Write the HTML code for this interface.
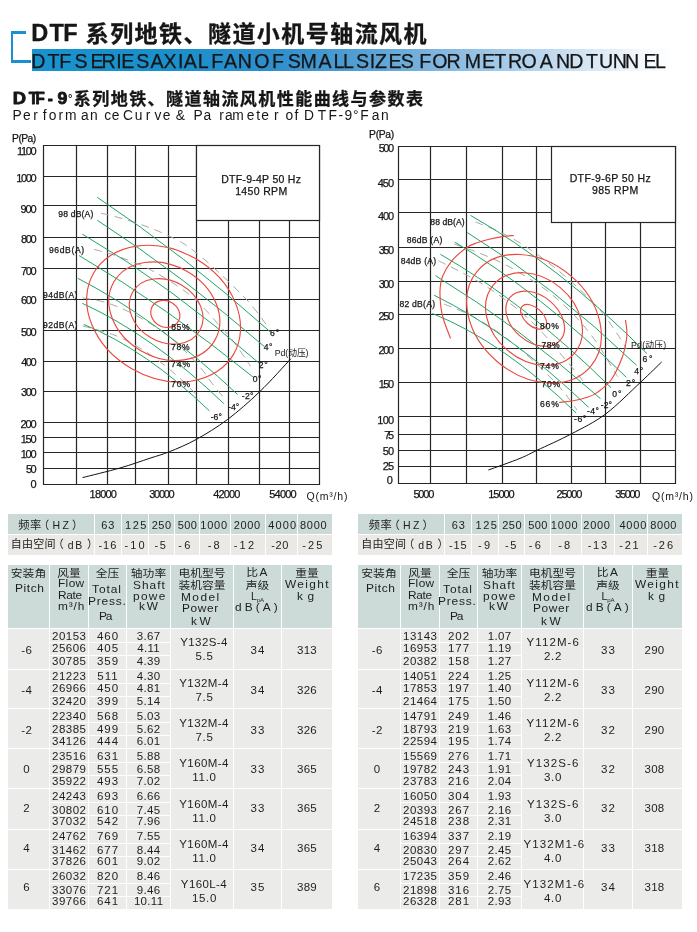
<!DOCTYPE html><html lang="zh"><head><meta charset="utf-8"><title>DTF 系列地铁、隧道小机号轴流风机</title><style>
html,body{margin:0;padding:0;background:#fff;}
body{width:697px;height:932px;overflow:hidden;position:relative;font-family:"Liberation Sans","Noto Sans CJK SC",sans-serif;color:#1a1a1a;}
.a{position:absolute;white-space:nowrap;}
.c{position:absolute;}
.t{position:absolute;left:0;width:100%;text-align:center;white-space:nowrap;font-size:11px;line-height:12px;color:#1e1e1e;}
.z{font-size:10.5px;letter-spacing:0;transform:scaleX(1.12);}
.d{font-size:11.5px;}
.e{font-size:10.5px;letter-spacing:1.7px;}
.hd{background:#ccdad8;}
.dt{background:#ebebe9;}
.f1{background:#cbd9d7;}
.f2{background:#eae9e6;}
svg text{font-family:"Liberation Sans","Noto Sans CJK SC",sans-serif;fill:#161616;}
</style></head><body>
<div class="a" style="left:31.5px;top:49.2px;width:640px;height:21.5px;background:linear-gradient(90deg,#1893cf 0%,#1a8fcb 22%,#2f8fcd 38%,#4f9dd3 50%,#86b9e0 65%,#c3dbf0 82%,#f4f8fc 95%,#ffffff 100%);"></div>
<div class="a" style="left:11px;top:31px;width:13px;height:29px;border-left:2.6px solid #1990d0;border-top:3px solid #1990d0;"></div>
<div class="a" style="left:11px;top:60px;width:20px;height:3px;background:#1990d0;"></div>
<svg class="a" style="left:0;top:0" width="697" height="505" viewBox="0 0 697 505">
<text x="31.3 49.6 63.2" y="40.50" font-size="23.5" font-weight="bold" fill="#111" stroke="#111" stroke-width="0.3" stroke-linejoin="round">DTF</text>
<text x="85.7" y="41.9" font-size="23" font-weight="bold" fill="#111" stroke="#111" stroke-width="0.3" letter-spacing="1.45">系列地铁、隧道小机号轴流风机</text>
<text x="31.2 47.5 59.2 71.2 74.6 90.5 101.5 116.3 121.3 136.2 149.3 150.5 163.5 177.9 183.7 197.8 208.7 211.3 223.9 237.8 252.0 254.3 272.1 284.1 287.8 300.5 318.6 333.6 343.1 354.0 356.1 369.8 374.9 388.6 400.8 413.8 419.2 432.2 446.6 460.8 464.7 482.1 494.3 508.1 521.4 536.6 539.7 555.9 569.3 583.5 586.0 598.9 612.7 624.9 643.5 655.1" y="67.80" font-size="19.6" fill="#111" stroke="#111" stroke-width="0.25" stroke-linejoin="round">DTF SERIES AXIAL FAN OF SMALL SIZES FOR METRO AND TUNNEL</text>
<text x="11.0" y="103.90" font-size="16" font-weight="bold" fill="#111" stroke="#111" stroke-width="0.8" stroke-linejoin="round" transform="scale(1.15,1)">D</text>
<text x="30.3 37.3 50.3" y="103.90" font-size="16" font-weight="bold" fill="#111" stroke="#111" stroke-width="0.8" stroke-linejoin="round" transform="scale(0.95,1)">TF-</text>
<text x="52.3" y="103.90" font-size="16" font-weight="bold" fill="#111" stroke="#111" stroke-width="0.8" stroke-linejoin="round" transform="scale(1.1,1)">9</text>
<text x="68" y="101.5" font-size="11" font-weight="bold" fill="#111">°</text>
<text x="73.8" y="104.9" font-size="17" font-weight="bold" fill="#111" stroke="#111" stroke-width="0.3" letter-spacing="1.45">系列地铁、隧道轴流风机性能曲线与参数表</text>
<text x="12.6 23.1 33.3 42.8 48.7 58.6 64.9 81.0 90.1 104.2 111.8 119.4 123.0 134.7 145.7 154.5 162.8 170.5 175.7 184.9 193.6 203.6 219.3 225.0 232.2 246.8 256.3 261.3 274.1 278.7 285.4 294.6 298.4 303.9 317.8 328.6 338.6 344.6 353.0 358.5 360.2 371.8 381.0" y="120.40" font-size="13.8" fill="#333">Performance Curve &amp; Parameter of DTF-9° Fan</text>
<path d="M43.5 145.0V485.0M76.5 145.0V485.0M107.5 145.0V485.0M135.5 145.0V485.0M168.5 145.0V485.0M196.5 145.0V485.0M228.5 145.0V485.0M259.5 145.0V485.0M289.5 145.0V485.0M319.5 145.0V485.0M43.0 145.5H320.0M43.0 176.5H320.0M43.0 205.5H320.0M43.0 237.5H320.0M43.0 268.5H320.0M43.0 299.5H320.0M43.0 330.5H320.0M43.0 361.5H320.0M43.0 391.5H320.0M43.0 422.5H320.0M43.0 437.5H320.0M43.0 452.5H320.0M43.0 468.5H320.0M43.0 484.5H320.0" fill="none" stroke="#262626" stroke-width="1.2"/>
<path d="M101.0 213.2 C105.1 214.2 116.7 216.8 125.5 219.5 C134.3 222.2 144.7 225.6 154.0 229.4 C163.3 233.2 173.8 238.0 181.5 242.4 C189.2 246.8 194.4 251.4 200.0 255.8 C205.6 260.2 209.7 264.1 215.0 269.0 C220.3 273.9 226.7 279.8 232.0 285.0 C237.3 290.2 242.3 294.8 247.0 300.0 C251.7 305.2 256.6 311.6 260.0 316.0 C263.4 320.4 266.2 324.8 267.5 326.5" fill="none" stroke="#a8a8a8" stroke-width="1" stroke-dasharray="8 6"/>
<path d="M94.0 249.4 C97.3 250.3 105.3 252.0 113.7 254.9 C122.1 257.8 135.6 262.7 144.5 266.8 C153.4 270.9 159.7 274.8 167.3 279.5 C174.9 284.2 183.6 290.0 190.0 295.0 C196.4 300.0 200.8 304.9 205.5 309.7 C210.2 314.5 213.9 319.4 218.0 324.0 C222.1 328.6 225.8 331.8 230.0 337.0 C234.2 342.2 239.6 350.1 243.0 355.0 C246.4 359.9 249.4 364.6 250.7 366.5" fill="none" stroke="#a8a8a8" stroke-width="1" stroke-dasharray="8 6"/>
<path d="M82.7 297.9 C86.4 298.6 97.7 300.0 105.0 302.2 C112.3 304.4 119.2 307.2 126.8 310.8 C134.4 314.4 143.6 319.6 150.5 323.7 C157.4 327.8 162.2 330.9 168.0 335.5 C173.8 340.1 179.4 345.4 185.0 351.0 C190.6 356.6 197.1 363.6 201.6 369.0 C206.1 374.4 208.3 378.6 212.0 383.3 C215.7 388.1 221.7 395.1 223.6 397.5" fill="none" stroke="#a8a8a8" stroke-width="1" stroke-dasharray="8 6"/>
<path d="M82.7 325.9 C87.7 327.3 104.4 331.4 112.8 334.5 C121.2 337.6 126.3 340.3 133.3 344.2 C140.3 348.1 148.1 353.0 155.0 358.0 C161.9 363.0 169.2 369.0 175.0 374.0 C180.8 379.0 185.8 383.8 190.0 388.0 C194.2 392.2 198.3 397.2 200.0 399.0" fill="none" stroke="#a8a8a8" stroke-width="1" stroke-dasharray="8 6"/>
<path d="M97.2 197.3Q183.7 254.5 270.2 331.8" fill="none" stroke="#14a05c" stroke-width="0.95"/>
<path d="M97.2 220.2Q180.8 274.3 264.5 346.7" fill="none" stroke="#14a05c" stroke-width="0.95"/>
<path d="M82.3 234.1Q170.8 285.5 259.2 363.3" fill="none" stroke="#14a05c" stroke-width="0.95"/>
<path d="M79.0 255.5Q166.6 306.9 254.1 377.8" fill="none" stroke="#14a05c" stroke-width="0.95"/>
<path d="M77.8 278.3Q157.7 319.4 237.6 394.5" fill="none" stroke="#14a05c" stroke-width="0.95"/>
<path d="M82.3 303.3Q153.1 335.8 223.8 403.6" fill="none" stroke="#14a05c" stroke-width="0.95"/>
<path d="M83.8 324.4Q146.6 350.1 209.4 410.9" fill="none" stroke="#14a05c" stroke-width="0.95"/>
<ellipse cx="165.3" cy="313.9" rx="15.0" ry="13.0" transform="rotate(30.0 165.3 313.9)" fill="none" stroke="#ea4a40" stroke-width="1.15"/>
<ellipse cx="166.2" cy="311.4" rx="38.7" ry="30.5" transform="rotate(30.0 166.2 311.4)" fill="none" stroke="#ea4a40" stroke-width="1.15"/>
<ellipse cx="164.3" cy="311.2" rx="58.3" ry="45.9" transform="rotate(30.0 164.3 311.2)" fill="none" stroke="#ea4a40" stroke-width="1.15"/>
<ellipse cx="163.6" cy="313.7" rx="80.9" ry="63.6" transform="rotate(30.0 163.6 313.7)" fill="none" stroke="#ea4a40" stroke-width="1.15"/>
<path d="M82.5 477.6 C88.8 476.0 108.8 471.2 120.0 468.0 C131.2 464.8 141.8 460.9 150.0 458.2 C158.2 455.5 161.7 454.8 169.4 451.7 C177.2 448.6 186.8 444.7 196.5 439.3 C206.2 433.9 216.9 427.4 227.5 419.5 C238.1 411.6 249.2 401.7 259.8 391.6 C270.4 381.5 285.6 364.3 290.8 358.8" fill="none" stroke="#111" stroke-width="1"/>
<rect x="196.5" y="145.5" width="123.0" height="75.0" fill="#fff" stroke="#262626" stroke-width="1.2"/>
<text x="221.15" y="182.92" font-size="10.5" letter-spacing="0.27" stroke="#161616" stroke-width="0.25">DTF-9-4P 50 Hz</text>
<text x="235.20" y="194.92" font-size="10.5" letter-spacing="0.34" stroke="#161616" stroke-width="0.25">1450 RPM</text>
<text x="17.00" y="155.09" font-size="11" letter-spacing="-1.35" stroke="#161616" stroke-width="0.25">1100</text>
<text x="16.20" y="182.29" font-size="11" letter-spacing="-1.35" stroke="#161616" stroke-width="0.25">1000</text>
<text x="20.50" y="212.89" font-size="11" letter-spacing="-1.12" stroke="#161616" stroke-width="0.25">900</text>
<text x="21.05" y="243.09" font-size="11" letter-spacing="-1.40" stroke="#161616" stroke-width="0.25">800</text>
<text x="20.95" y="275.30" font-size="11" letter-spacing="-1.35" stroke="#161616" stroke-width="0.25">700</text>
<text x="20.95" y="304.30" font-size="11" letter-spacing="-1.35" stroke="#161616" stroke-width="0.25">600</text>
<text x="21.10" y="335.80" font-size="11" letter-spacing="-1.42" stroke="#161616" stroke-width="0.25">500</text>
<text x="21.25" y="365.90" font-size="11" letter-spacing="-1.50" stroke="#161616" stroke-width="0.25">400</text>
<text x="21.10" y="396.00" font-size="11" letter-spacing="-1.42" stroke="#161616" stroke-width="0.25">300</text>
<text x="20.45" y="427.80" font-size="11" letter-spacing="-1.10" stroke="#161616" stroke-width="0.25">200</text>
<text x="20.70" y="442.90" font-size="11" letter-spacing="-1.22" stroke="#161616" stroke-width="0.25">150</text>
<text x="20.70" y="458.00" font-size="11" letter-spacing="-1.22" stroke="#161616" stroke-width="0.25">100</text>
<text x="25.90" y="473.00" font-size="11" letter-spacing="-1.50" stroke="#161616" stroke-width="0.25">50</text>
<text x="30.60" y="488.10" font-size="11" letter-spacing="0.00" stroke="#161616" stroke-width="0.25">0</text>
<text x="12.10" y="142.05" font-size="10.3" letter-spacing="-0.57" stroke="#161616" stroke-width="0.25">P(Pa)</text>
<text x="89.60" y="497.69" font-size="11" letter-spacing="-0.81" stroke="#161616" stroke-width="0.25">18000</text>
<text x="149.30" y="497.69" font-size="11" letter-spacing="-1.29" stroke="#161616" stroke-width="0.25">30000</text>
<text x="213.25" y="497.69" font-size="11" letter-spacing="-0.85" stroke="#161616" stroke-width="0.25">42000</text>
<text x="269.30" y="497.69" font-size="11" letter-spacing="-0.79" stroke="#161616" stroke-width="0.25">54000</text>
<text x="306.5" y="499.6" font-size="10.5" text-anchor="start" letter-spacing="0.8" >Q(m³/h)</text>
<text x="58.30" y="217.17" font-size="8.6" letter-spacing="0.16" stroke="#161616" stroke-width="0.25">98 dB(A)</text>
<text x="48.90" y="253.47" font-size="8.6" letter-spacing="0.63" stroke="#161616" stroke-width="0.25">96dB(A)</text>
<text x="43.00" y="298.17" font-size="8.6" letter-spacing="0.49" stroke="#161616" stroke-width="0.25">94dB(A)</text>
<text x="43.00" y="327.67" font-size="8.6" letter-spacing="0.49" stroke="#161616" stroke-width="0.25">92dB(A)</text>
<text x="171.15" y="330.17" font-size="8.6" letter-spacing="0.68" stroke="#161616" stroke-width="0.25">85%</text>
<text x="171.10" y="349.67" font-size="8.6" letter-spacing="0.70" stroke="#161616" stroke-width="0.25">78%</text>
<text x="171.10" y="366.97" font-size="8.6" letter-spacing="0.90" stroke="#161616" stroke-width="0.25">74%</text>
<text x="171.10" y="386.87" font-size="8.6" letter-spacing="0.90" stroke="#161616" stroke-width="0.25">70%</text>
<text x="270.00" y="336.17" font-size="8.6" letter-spacing="0.85" stroke="#161616" stroke-width="0.25">6°</text>
<text x="263.65" y="350.37" font-size="8.6" letter-spacing="0.60" stroke="#161616" stroke-width="0.25">4°</text>
<text x="258.80" y="367.77" font-size="8.6" letter-spacing="0.65" stroke="#161616" stroke-width="0.25">2°</text>
<text x="252.70" y="382.07" font-size="8.6" letter-spacing="0.55" stroke="#161616" stroke-width="0.25">0°</text>
<text x="241.85" y="399.27" font-size="8.6" letter-spacing="0.28" stroke="#161616" stroke-width="0.25">-2°</text>
<text x="228.05" y="410.07" font-size="8.6" letter-spacing="-0.03" stroke="#161616" stroke-width="0.25">-4°</text>
<text x="210.65" y="419.87" font-size="8.6" letter-spacing="0.12" stroke="#161616" stroke-width="0.25">-6°</text>
<text x="274.8" y="356.4" font-size="8.8" text-anchor="start" letter-spacing="-0.1" >Pd(动压)</text>
<path d="M398.5 146.0V484.0M430.5 146.0V484.0M466.5 146.0V484.0M502.5 146.0V484.0M536.5 146.0V484.0M571.5 146.0V484.0M605.5 146.0V484.0M640.5 146.0V484.0M675.5 146.0V484.0M398.0 146.5H676.0M398.0 179.5H676.0M398.0 212.5H676.0M398.0 247.5H676.0M398.0 281.5H676.0M398.0 314.5H676.0M398.0 348.5H676.0M398.0 382.5H676.0M398.0 416.5H676.0M398.0 434.5H676.0M398.0 450.5H676.0M398.0 466.5H676.0M398.0 483.5H676.0" fill="none" stroke="#262626" stroke-width="1.2"/>
<path d="M475.5 222.0 C479.6 223.7 491.8 228.0 500.0 232.0 C508.2 236.0 516.7 240.7 525.0 246.0 C533.3 251.3 541.7 257.5 550.0 264.0 C558.3 270.5 566.7 277.3 575.0 285.0 C583.3 292.7 593.1 302.1 600.0 310.0 C606.9 317.9 612.0 326.2 616.5 332.7 C621.0 339.2 625.0 346.4 626.7 349.2" fill="none" stroke="#a8a8a8" stroke-width="1" stroke-dasharray="8 6"/>
<path d="M454.0 244.0 C457.7 245.3 468.3 248.8 476.0 251.8 C483.7 254.8 491.8 258.0 500.0 262.0 C508.2 266.0 516.7 270.8 525.0 276.0 C533.3 281.2 541.7 286.3 550.0 293.0 C558.3 299.7 567.3 307.9 575.0 316.0 C582.7 324.1 589.5 332.5 596.0 341.6 C602.5 350.7 610.3 364.9 614.0 370.8 C617.7 376.7 617.3 376.0 618.0 377.0" fill="none" stroke="#a8a8a8" stroke-width="1" stroke-dasharray="8 6"/>
<path d="M438.4 260.8 C442.1 262.6 452.9 267.8 460.5 271.8 C468.1 275.8 476.2 280.1 484.0 285.0 C491.8 289.9 499.3 295.2 507.0 301.0 C514.7 306.8 522.8 313.3 530.0 320.0 C537.2 326.7 544.7 335.1 550.0 341.0 C555.3 346.9 557.0 349.6 562.0 355.6 C567.0 361.6 576.3 372.3 580.0 377.0 C583.7 381.7 583.3 382.8 584.0 384.0" fill="none" stroke="#a8a8a8" stroke-width="1" stroke-dasharray="8 6"/>
<path d="M444.0 304.0 C448.3 305.8 461.5 310.7 470.0 315.0 C478.5 319.3 486.7 324.3 495.0 330.0 C503.3 335.7 511.7 342.0 520.0 349.0 C528.3 356.0 537.8 365.0 545.0 372.0 C552.2 379.0 557.7 384.7 563.0 391.0 C568.3 397.3 574.7 406.8 577.0 410.0" fill="none" stroke="#a8a8a8" stroke-width="1" stroke-dasharray="8 6"/>
<path d="M470.5 215.4Q558.8 265.1 647.0 353.6" fill="none" stroke="#14a05c" stroke-width="0.95"/>
<path d="M467.2 232.5Q551.9 284.4 636.5 365.2" fill="none" stroke="#14a05c" stroke-width="0.95"/>
<path d="M454.9 242.2Q540.6 293.0 626.3 377.3" fill="none" stroke="#14a05c" stroke-width="0.95"/>
<path d="M440.4 254.3Q525.7 303.2 611.0 387.7" fill="none" stroke="#14a05c" stroke-width="0.95"/>
<path d="M435.4 275.6Q518.0 325.9 600.5 398.6" fill="none" stroke="#14a05c" stroke-width="0.95"/>
<path d="M434.1 295.2Q511.3 333.2 588.5 407.2" fill="none" stroke="#14a05c" stroke-width="0.95"/>
<path d="M432.5 313.5Q504.4 342.5 576.2 413.1" fill="none" stroke="#14a05c" stroke-width="0.95"/>
<ellipse cx="533.6" cy="316.8" rx="15.5" ry="9.0" transform="rotate(42.0 533.6 316.8)" fill="none" stroke="#ea4a40" stroke-width="1.15"/>
<ellipse cx="535.2" cy="318.7" rx="33.0" ry="23.0" transform="rotate(40.0 535.2 318.7)" fill="none" stroke="#ea4a40" stroke-width="1.15"/>
<ellipse cx="534.0" cy="319.0" rx="53.0" ry="41.0" transform="rotate(40.0 534.0 319.0)" fill="none" stroke="#ea4a40" stroke-width="1.15"/>
<ellipse cx="534.0" cy="318.7" rx="74.0" ry="56.5" transform="rotate(40.0 534.0 318.7)" fill="none" stroke="#ea4a40" stroke-width="1.15"/>
<path d="M513.9 235.5 C512.0 235.7 506.6 235.9 502.3 236.6 C498.0 237.3 492.3 238.5 488.1 239.5 C483.9 240.5 480.7 241.5 477.1 242.8 C473.6 244.1 471.0 244.5 466.8 247.5 C462.6 250.5 455.9 256.0 451.8 260.8 C447.8 265.6 444.5 271.5 442.5 276.5 C440.5 281.5 440.2 285.8 440.0 291.0 C439.8 296.2 440.4 303.2 441.0 308.0 C441.6 312.8 442.1 314.9 443.7 320.0 C445.3 325.1 449.4 335.4 450.5 338.5" fill="none" stroke="#ea4a40" stroke-width="1.15"/>
<path d="M625.5 320.0 C625.7 321.7 626.6 326.7 626.8 330.0 C626.9 333.3 627.2 335.3 626.4 340.0 C625.6 344.7 624.6 351.3 622.0 358.0 C619.4 364.7 615.2 374.2 611.0 380.0 C606.8 385.8 600.9 389.7 597.0 392.6 C593.1 395.5 591.6 395.8 587.4 397.2 C583.2 398.6 576.7 400.1 572.0 401.0 C567.3 401.9 561.2 402.2 559.0 402.5" fill="none" stroke="#ea4a40" stroke-width="1.15"/>
<path d="M488.4 470.0 C493.7 468.1 511.9 461.7 520.0 458.4 C528.1 455.1 528.4 454.4 537.0 450.3 C545.6 446.2 560.1 439.9 571.5 433.8 C582.9 427.8 594.1 422.6 605.6 414.0 C617.1 405.4 631.2 390.9 640.6 382.2 C650.0 373.5 658.2 365.3 661.7 361.9" fill="none" stroke="#111" stroke-width="1"/>
<rect x="551.5" y="146.5" width="124.0" height="76.0" fill="#fff" stroke="#262626" stroke-width="1.2"/>
<text x="569.65" y="182.32" font-size="10.5" letter-spacing="0.37" stroke="#161616" stroke-width="0.25">DTF-9-6P 50 Hz</text>
<text x="592.05" y="194.32" font-size="10.5" letter-spacing="0.39" stroke="#161616" stroke-width="0.25">985 RPM</text>
<text x="378.70" y="152.29" font-size="11" letter-spacing="-1.48" stroke="#161616" stroke-width="0.25">500</text>
<text x="377.65" y="187.39" font-size="11" letter-spacing="-0.95" stroke="#161616" stroke-width="0.25">450</text>
<text x="378.05" y="219.99" font-size="11" letter-spacing="-1.15" stroke="#161616" stroke-width="0.25">400</text>
<text x="378.70" y="254.29" font-size="11" letter-spacing="-1.48" stroke="#161616" stroke-width="0.25">350</text>
<text x="378.70" y="288.00" font-size="11" letter-spacing="-1.48" stroke="#161616" stroke-width="0.25">300</text>
<text x="378.55" y="319.50" font-size="11" letter-spacing="-1.40" stroke="#161616" stroke-width="0.25">250</text>
<text x="378.55" y="354.30" font-size="11" letter-spacing="-1.40" stroke="#161616" stroke-width="0.25">200</text>
<text x="378.70" y="388.19" font-size="11" letter-spacing="-1.48" stroke="#161616" stroke-width="0.25">150</text>
<text x="377.30" y="424.00" font-size="11" letter-spacing="-0.78" stroke="#161616" stroke-width="0.25">100</text>
<text x="384.15" y="438.90" font-size="11" letter-spacing="-2.25" stroke="#161616" stroke-width="0.25">75</text>
<text x="382.80" y="454.60" font-size="11" letter-spacing="-0.90" stroke="#161616" stroke-width="0.25">50</text>
<text x="382.65" y="470.00" font-size="11" letter-spacing="-0.75" stroke="#161616" stroke-width="0.25">25</text>
<text x="386.80" y="484.10" font-size="11" letter-spacing="0.00" stroke="#161616" stroke-width="0.25">0</text>
<text x="369.10" y="138.35" font-size="10.3" letter-spacing="-0.30" stroke="#161616" stroke-width="0.25">P(Pa)</text>
<text x="413.40" y="497.69" font-size="11" letter-spacing="-1.18" stroke="#161616" stroke-width="0.25">5000</text>
<text x="488.30" y="497.69" font-size="11" letter-spacing="-1.04" stroke="#161616" stroke-width="0.25">15000</text>
<text x="556.45" y="497.69" font-size="11" letter-spacing="-1.15" stroke="#161616" stroke-width="0.25">25000</text>
<text x="615.30" y="497.69" font-size="11" letter-spacing="-1.41" stroke="#161616" stroke-width="0.25">35000</text>
<text x="652.0" y="499.6" font-size="10.5" text-anchor="start" letter-spacing="0.8" >Q(m³/h)</text>
<text x="430.35" y="225.07" font-size="8.6" letter-spacing="0.06" stroke="#161616" stroke-width="0.25">88 dB(A)</text>
<text x="406.65" y="243.17" font-size="8.6" letter-spacing="0.25" stroke="#161616" stroke-width="0.25">86dB (A)</text>
<text x="400.65" y="263.77" font-size="8.6" letter-spacing="0.21" stroke="#161616" stroke-width="0.25">84dB (A)</text>
<text x="399.45" y="307.17" font-size="8.6" letter-spacing="0.24" stroke="#161616" stroke-width="0.25">82 dB(A)</text>
<text x="539.95" y="328.57" font-size="8.6" letter-spacing="0.93" stroke="#161616" stroke-width="0.25">80%</text>
<text x="541.60" y="347.87" font-size="8.6" letter-spacing="0.45" stroke="#161616" stroke-width="0.25">78%</text>
<text x="539.90" y="368.77" font-size="8.6" letter-spacing="0.95" stroke="#161616" stroke-width="0.25">74%</text>
<text x="541.60" y="386.87" font-size="8.6" letter-spacing="0.65" stroke="#161616" stroke-width="0.25">70%</text>
<text x="539.90" y="406.67" font-size="8.6" letter-spacing="0.95" stroke="#161616" stroke-width="0.25">66%</text>
<text x="642.60" y="362.07" font-size="8.6" letter-spacing="1.65" stroke="#161616" stroke-width="0.25">6°</text>
<text x="634.35" y="373.57" font-size="8.6" letter-spacing="0.60" stroke="#161616" stroke-width="0.25">4°</text>
<text x="626.00" y="386.17" font-size="8.6" letter-spacing="0.85" stroke="#161616" stroke-width="0.25">2°</text>
<text x="612.30" y="396.97" font-size="8.6" letter-spacing="0.95" stroke="#161616" stroke-width="0.25">0°</text>
<text x="600.85" y="407.97" font-size="8.6" letter-spacing="0.02" stroke="#161616" stroke-width="0.25">-2°</text>
<text x="587.05" y="414.17" font-size="8.6" letter-spacing="0.38" stroke="#161616" stroke-width="0.25">-4°</text>
<text x="574.05" y="422.17" font-size="8.6" letter-spacing="0.48" stroke="#161616" stroke-width="0.25">-6°</text>
<text x="631.0" y="347.6" font-size="8.8" text-anchor="start" letter-spacing="0.2" >Pd(动压)</text>
</svg>
<div class="c f1" style="left:8.0px;top:514.0px;width:86.0px;height:19.5px;"><div class="t " style="top:4.6px;left:10.30px;width:auto;text-align:left;font-size:11.3px;letter-spacing:0.5px;">频率</div><div class="t " style="top:4.6px;left:30.30px;width:auto;text-align:left;font-size:11px;letter-spacing:0px;">（</div><div class="t " style="top:5.2px;left:44.45px;width:auto;text-align:left;font-size:10.5px;letter-spacing:2.45px;">HZ</div><div class="t " style="top:4.6px;left:64.00px;width:auto;text-align:left;font-size:11px;letter-spacing:0px;">）</div></div>
<div class="c f2" style="left:8.0px;top:535.0px;width:86.0px;height:19.5px;"><div class="t " style="top:3.2px;left:2.80px;width:auto;text-align:left;font-size:11px;letter-spacing:0.2px;">自由空间</div><div class="t " style="top:3.2px;left:44.70px;width:auto;text-align:left;font-size:11px;letter-spacing:0px;">（</div><div class="t " style="top:3.6px;left:59.80px;width:auto;text-align:left;font-size:10.5px;letter-spacing:1.70px;">dB</div><div class="t " style="top:3.2px;left:79.00px;width:auto;text-align:left;font-size:11px;letter-spacing:0px;">）</div></div>
<div class="c f1" style="left:95.0px;top:514.0px;width:26.0px;height:19.5px;"><div class="t " style="top:5.3px;left:6.15px;width:auto;text-align:left;font-size:11px;letter-spacing:0.90px;">63</div></div>
<div class="c f2" style="left:95.0px;top:535.0px;width:26.0px;height:19.5px;"><div class="t " style="top:3.6px;left:3.55px;width:auto;text-align:left;font-size:11px;letter-spacing:0.90px;">-16</div></div>
<div class="c f1" style="left:122.0px;top:514.0px;width:26.0px;height:19.5px;"><div class="t " style="top:5.3px;left:3.00px;width:auto;text-align:left;font-size:11px;letter-spacing:1.53px;">125</div></div>
<div class="c f2" style="left:122.0px;top:535.0px;width:26.0px;height:19.5px;"><div class="t " style="top:3.6px;left:2.55px;width:auto;text-align:left;font-size:11px;letter-spacing:2.07px;">-10</div></div>
<div class="c f1" style="left:149.0px;top:514.0px;width:25.0px;height:19.5px;"><div class="t " style="top:5.3px;left:2.75px;width:auto;text-align:left;font-size:11px;letter-spacing:0.45px;">250</div></div>
<div class="c f2" style="left:149.0px;top:535.0px;width:25.0px;height:19.5px;"><div class="t " style="top:3.6px;left:5.45px;width:auto;text-align:left;font-size:11px;letter-spacing:1.60px;">-5</div></div>
<div class="c f1" style="left:175.0px;top:514.0px;width:24.0px;height:19.5px;"><div class="t " style="top:5.3px;left:2.80px;width:auto;text-align:left;font-size:11px;letter-spacing:0.33px;">500</div></div>
<div class="c f2" style="left:175.0px;top:535.0px;width:24.0px;height:19.5px;"><div class="t " style="top:3.6px;left:3.25px;width:auto;text-align:left;font-size:11px;letter-spacing:2.35px;">-6</div></div>
<div class="c f1" style="left:200.0px;top:514.0px;width:30.0px;height:19.5px;"><div class="t " style="top:5.3px;left:0.20px;width:auto;text-align:left;font-size:11px;letter-spacing:0.85px;">1000</div></div>
<div class="c f2" style="left:200.0px;top:535.0px;width:30.0px;height:19.5px;"><div class="t " style="top:3.6px;left:7.85px;width:auto;text-align:left;font-size:11px;letter-spacing:1.95px;">-8</div></div>
<div class="c f1" style="left:231.0px;top:514.0px;width:34.0px;height:19.5px;"><div class="t " style="top:5.3px;left:2.65px;width:auto;text-align:left;font-size:11px;letter-spacing:0.63px;">2000</div></div>
<div class="c f2" style="left:231.0px;top:535.0px;width:34.0px;height:19.5px;"><div class="t " style="top:3.6px;left:2.75px;width:auto;text-align:left;font-size:11px;letter-spacing:2.18px;">-12</div></div>
<div class="c f1" style="left:266.0px;top:514.0px;width:31.0px;height:19.5px;"><div class="t " style="top:5.3px;left:2.35px;width:auto;text-align:left;font-size:11px;letter-spacing:1.10px;">4000</div></div>
<div class="c f2" style="left:266.0px;top:535.0px;width:31.0px;height:19.5px;"><div class="t " style="top:3.6px;left:5.35px;width:auto;text-align:left;font-size:11px;letter-spacing:0.57px;">-20</div></div>
<div class="c f1" style="left:298.0px;top:514.0px;width:34.0px;height:19.5px;"><div class="t " style="top:5.3px;left:1.95px;width:auto;text-align:left;font-size:11px;letter-spacing:0.77px;">8000</div></div>
<div class="c f2" style="left:298.0px;top:535.0px;width:34.0px;height:19.5px;"><div class="t " style="top:3.6px;left:4.15px;width:auto;text-align:left;font-size:11px;letter-spacing:2.17px;">-25</div></div>
<div class="c f1" style="left:358.0px;top:514.0px;width:86.0px;height:19.5px;"><div class="t " style="top:4.6px;left:10.80px;width:auto;text-align:left;font-size:11.3px;letter-spacing:0.5px;">频率</div><div class="t " style="top:4.6px;left:30.80px;width:auto;text-align:left;font-size:11px;letter-spacing:0px;">（</div><div class="t " style="top:5.2px;left:44.95px;width:auto;text-align:left;font-size:10.5px;letter-spacing:2.45px;">HZ</div><div class="t " style="top:4.6px;left:64.50px;width:auto;text-align:left;font-size:11px;letter-spacing:0px;">）</div></div>
<div class="c f2" style="left:358.0px;top:535.0px;width:86.0px;height:19.5px;"><div class="t " style="top:3.2px;left:3.30px;width:auto;text-align:left;font-size:11px;letter-spacing:0.2px;">自由空间</div><div class="t " style="top:3.2px;left:45.20px;width:auto;text-align:left;font-size:11px;letter-spacing:0px;">（</div><div class="t " style="top:3.6px;left:60.30px;width:auto;text-align:left;font-size:10.5px;letter-spacing:1.70px;">dB</div><div class="t " style="top:3.2px;left:79.50px;width:auto;text-align:left;font-size:11px;letter-spacing:0px;">）</div></div>
<div class="c f1" style="left:445.0px;top:514.0px;width:26.0px;height:19.5px;"><div class="t " style="top:5.3px;left:6.65px;width:auto;text-align:left;font-size:11px;letter-spacing:0.90px;">63</div></div>
<div class="c f2" style="left:445.0px;top:535.0px;width:26.0px;height:19.5px;"><div class="t " style="top:3.6px;left:4.05px;width:auto;text-align:left;font-size:11px;letter-spacing:0.88px;">-15</div></div>
<div class="c f1" style="left:472.0px;top:514.0px;width:26.0px;height:19.5px;"><div class="t " style="top:5.3px;left:3.50px;width:auto;text-align:left;font-size:11px;letter-spacing:1.52px;">125</div></div>
<div class="c f2" style="left:472.0px;top:535.0px;width:26.0px;height:19.5px;"><div class="t " style="top:3.6px;left:6.05px;width:auto;text-align:left;font-size:11px;letter-spacing:2.20px;">-9</div></div>
<div class="c f1" style="left:499.0px;top:514.0px;width:25.0px;height:19.5px;"><div class="t " style="top:5.3px;left:3.25px;width:auto;text-align:left;font-size:11px;letter-spacing:0.45px;">250</div></div>
<div class="c f2" style="left:499.0px;top:535.0px;width:25.0px;height:19.5px;"><div class="t " style="top:3.6px;left:5.95px;width:auto;text-align:left;font-size:11px;letter-spacing:1.60px;">-5</div></div>
<div class="c f1" style="left:525.0px;top:514.0px;width:25.0px;height:19.5px;"><div class="t " style="top:5.3px;left:3.30px;width:auto;text-align:left;font-size:11px;letter-spacing:0.32px;">500</div></div>
<div class="c f2" style="left:525.0px;top:535.0px;width:25.0px;height:19.5px;"><div class="t " style="top:3.6px;left:3.75px;width:auto;text-align:left;font-size:11px;letter-spacing:2.35px;">-6</div></div>
<div class="c f1" style="left:551.0px;top:514.0px;width:30.0px;height:19.5px;"><div class="t " style="top:5.3px;left:-0.30px;width:auto;text-align:left;font-size:11px;letter-spacing:0.85px;">1000</div></div>
<div class="c f2" style="left:551.0px;top:535.0px;width:30.0px;height:19.5px;"><div class="t " style="top:3.6px;left:7.35px;width:auto;text-align:left;font-size:11px;letter-spacing:1.95px;">-8</div></div>
<div class="c f1" style="left:582.0px;top:514.0px;width:32.0px;height:19.5px;"><div class="t " style="top:5.3px;left:1.35px;width:auto;text-align:left;font-size:11px;letter-spacing:0.67px;">2000</div></div>
<div class="c f2" style="left:582.0px;top:535.0px;width:32.0px;height:19.5px;"><div class="t " style="top:3.6px;left:5.75px;width:auto;text-align:left;font-size:11px;letter-spacing:1.70px;">-13</div></div>
<div class="c f1" style="left:615.0px;top:514.0px;width:32.0px;height:19.5px;"><div class="t " style="top:5.3px;left:4.45px;width:auto;text-align:left;font-size:11px;letter-spacing:0.80px;">4000</div></div>
<div class="c f2" style="left:615.0px;top:535.0px;width:32.0px;height:19.5px;"><div class="t " style="top:3.6px;left:4.25px;width:auto;text-align:left;font-size:11px;letter-spacing:1.72px;">-21</div></div>
<div class="c f1" style="left:648.0px;top:514.0px;width:34.0px;height:19.5px;"><div class="t " style="top:5.3px;left:2.25px;width:auto;text-align:left;font-size:11px;letter-spacing:0.57px;">8000</div></div>
<div class="c f2" style="left:648.0px;top:535.0px;width:34.0px;height:19.5px;"><div class="t " style="top:3.6px;left:5.15px;width:auto;text-align:left;font-size:11px;letter-spacing:2.00px;">-26</div></div>
<div class="c hd" style="left:8.0px;top:565.0px;width:41.0px;height:63.0px;"><div class="t z" style="top:1.5px;">安装角</div><div class="t " style="top:16.7px;left:7.36px;width:auto;text-align:left;font-size:11.5px;letter-spacing:0.56px;transform:scaleX(1.04);transform-origin:0 50%;">Pitch</div></div>
<div class="c hd" style="left:50.0px;top:565.0px;width:38.0px;height:63.0px;"><div class="t z" style="top:1.5px;">风量</div><div class="t " style="top:12.4px;left:7.74px;width:auto;text-align:left;font-size:10.5px;letter-spacing:0.33px;transform:scaleX(1.13);transform-origin:0 50%;">Flow</div><div class="t " style="top:24.0px;left:7.74px;width:auto;text-align:left;font-size:10.5px;letter-spacing:-0.27px;transform:scaleX(1.13);transform-origin:0 50%;">Rate</div><div class="t " style="top:35.2px;left:7.97px;width:auto;text-align:left;font-size:10.5px;letter-spacing:0.75px;transform:scaleX(1.13);transform-origin:0 50%;">m³/h</div></div>
<div class="c hd" style="left:89.0px;top:565.0px;width:37.0px;height:63.0px;"><div class="t z" style="top:1.5px;">全压</div><div class="t " style="top:18.1px;left:3.34px;width:auto;text-align:left;font-size:11.5px;letter-spacing:0.88px;transform:scaleX(1.04);transform-origin:0 50%;">Total</div><div class="t " style="top:30.2px;left:-1.04px;width:auto;text-align:left;font-size:11.5px;letter-spacing:0.77px;transform:scaleX(1.04);transform-origin:0 50%;">Press.</div><div class="t " style="top:45.1px;left:10.06px;width:auto;text-align:left;font-size:11.5px;letter-spacing:-1.23px;transform:scaleX(1.04);transform-origin:0 50%;">Pa</div></div>
<div class="c hd" style="left:127.0px;top:565.0px;width:43.0px;height:63.0px;"><div class="t z" style="top:1.5px;">轴功率</div><div class="t " style="top:13.6px;left:5.69px;width:auto;text-align:left;font-size:10.5px;letter-spacing:0.92px;transform:scaleX(1.13);transform-origin:0 50%;">Shaft</div><div class="t " style="top:25.2px;left:5.77px;width:auto;text-align:left;font-size:10.5px;letter-spacing:1.14px;transform:scaleX(1.13);transform-origin:0 50%;">powe</div><div class="t " style="top:35.1px;left:11.71px;width:auto;text-align:left;font-size:10.5px;letter-spacing:1.66px;transform:scaleX(1.13);transform-origin:0 50%;">kW</div></div>
<div class="c hd" style="left:171.0px;top:565.0px;width:62.0px;height:63.0px;"><div class="t z" style="top:1.5px;">电机型号</div><div class="t z" style="top:13.6px;">装机容量</div><div class="t " style="top:26.2px;left:10.34px;width:auto;text-align:left;font-size:10.5px;letter-spacing:1.31px;transform:scaleX(1.13);transform-origin:0 50%;">Model</div><div class="t " style="top:37.4px;left:11.24px;width:auto;text-align:left;font-size:10.5px;letter-spacing:0.58px;transform:scaleX(1.13);transform-origin:0 50%;">Power</div><div class="t " style="top:49.9px;left:19.51px;width:auto;text-align:left;font-size:10.5px;letter-spacing:2.28px;transform:scaleX(1.13);transform-origin:0 50%;">kW</div></div>
<div class="c hd" style="left:234.0px;top:565.0px;width:47.0px;height:63.0px;"><div class="t z" style="top:0.6px;letter-spacing:1.2px;">比A</div><div class="t z" style="top:13.6px;">声级</div><div class="t e" style="top:25.4px;letter-spacing:0;">L<span style="font-size:6px;letter-spacing:0;vertical-align:-2px;line-height:0;">pA</span></div><div class="t " style="top:36.0px;left:1.35px;width:auto;text-align:left;font-size:10.5px;letter-spacing:2.71px;transform:scaleX(1.13);transform-origin:0 50%;">dB(A)</div></div>
<div class="c hd" style="left:282.0px;top:565.0px;width:50.0px;height:63.0px;"><div class="t z" style="top:1.5px;">重量</div><div class="t " style="top:12.9px;left:2.80px;width:auto;text-align:left;font-size:10.5px;letter-spacing:1.20px;transform:scaleX(1.13);transform-origin:0 50%;">Weight</div><div class="t " style="top:24.6px;left:15.31px;width:auto;text-align:left;font-size:10.5px;letter-spacing:3.97px;transform:scaleX(1.13);transform-origin:0 50%;">kg</div></div>
<div class="c dt" style="left:8.0px;top:629.0px;width:41.0px;height:40.0px;"><div class="t d" style="top:15.1px;letter-spacing:0.5px;text-indent:-3.5px;">-6</div></div>
<div class="c dt" style="left:50.0px;top:629.0px;width:38.0px;height:13.0px;"><div class="t d" style="top:1.3px;letter-spacing:0.5px;text-indent:0.5px;">20153</div></div>
<div class="c dt" style="left:89.0px;top:629.0px;width:37.0px;height:13.0px;"><div class="t d" style="top:1.3px;letter-spacing:1.0px;text-indent:1.0px;">460</div></div>
<div class="c dt" style="left:127.0px;top:629.0px;width:43.0px;height:13.0px;"><div class="t d" style="top:1.3px;letter-spacing:0.3px;text-indent:0.3px;">3.67</div></div>
<div class="c dt" style="left:50.0px;top:643.0px;width:38.0px;height:12.0px;"><div class="t d" style="top:-0.9px;letter-spacing:0.5px;text-indent:0.5px;">25606</div></div>
<div class="c dt" style="left:89.0px;top:643.0px;width:37.0px;height:12.0px;"><div class="t d" style="top:-0.9px;letter-spacing:1.0px;text-indent:1.0px;">405</div></div>
<div class="c dt" style="left:127.0px;top:643.0px;width:43.0px;height:12.0px;"><div class="t d" style="top:-0.9px;letter-spacing:0.3px;text-indent:0.3px;">4.11</div></div>
<div class="c dt" style="left:50.0px;top:656.0px;width:38.0px;height:13.0px;"><div class="t d" style="top:-0.6px;letter-spacing:0.5px;text-indent:0.5px;">30785</div></div>
<div class="c dt" style="left:89.0px;top:656.0px;width:37.0px;height:13.0px;"><div class="t d" style="top:-0.6px;letter-spacing:1.0px;text-indent:1.0px;">359</div></div>
<div class="c dt" style="left:127.0px;top:656.0px;width:43.0px;height:13.0px;"><div class="t d" style="top:-0.6px;letter-spacing:0.3px;text-indent:0.3px;">4.39</div></div>
<div class="c dt" style="left:171.0px;top:629.0px;width:62.0px;height:40.0px;"><div class="t d" style="top:7.4px;letter-spacing:0.4px;text-indent:4px;">Y132S-4</div><div class="t d" style="top:21.2px;letter-spacing:0.7px;text-indent:5px;">5.5</div></div>
<div class="c dt" style="left:234.0px;top:629.0px;width:47.0px;height:40.0px;"><div class="t d" style="top:14.9px;letter-spacing:1px;text-indent:1px;">34</div></div>
<div class="c dt" style="left:282.0px;top:629.0px;width:50.0px;height:40.0px;"><div class="t d" style="top:14.9px;letter-spacing:0.2px;text-indent:0px;">313</div></div>
<div class="c dt" style="left:8.0px;top:670.0px;width:41.0px;height:38.0px;"><div class="t d" style="top:14.3px;letter-spacing:0.5px;text-indent:-3.5px;">-4</div></div>
<div class="c dt" style="left:50.0px;top:670.0px;width:38.0px;height:13.0px;"><div class="t d" style="top:-0.3px;letter-spacing:0.5px;text-indent:0.5px;">21223</div></div>
<div class="c dt" style="left:89.0px;top:670.0px;width:37.0px;height:13.0px;"><div class="t d" style="top:-0.3px;letter-spacing:1.0px;text-indent:1.0px;">511</div></div>
<div class="c dt" style="left:127.0px;top:670.0px;width:43.0px;height:13.0px;"><div class="t d" style="top:-0.3px;letter-spacing:0.3px;text-indent:0.3px;">4.30</div></div>
<div class="c dt" style="left:50.0px;top:684.0px;width:38.0px;height:12.0px;"><div class="t d" style="top:-1.7px;letter-spacing:0.5px;text-indent:0.5px;">26966</div></div>
<div class="c dt" style="left:89.0px;top:684.0px;width:37.0px;height:12.0px;"><div class="t d" style="top:-1.7px;letter-spacing:1.0px;text-indent:1.0px;">450</div></div>
<div class="c dt" style="left:127.0px;top:684.0px;width:43.0px;height:12.0px;"><div class="t d" style="top:-1.7px;letter-spacing:0.3px;text-indent:0.3px;">4.81</div></div>
<div class="c dt" style="left:50.0px;top:697.0px;width:38.0px;height:11.0px;"><div class="t d" style="top:-1.9px;letter-spacing:0.5px;text-indent:0.5px;">32420</div></div>
<div class="c dt" style="left:89.0px;top:697.0px;width:37.0px;height:11.0px;"><div class="t d" style="top:-1.9px;letter-spacing:1.0px;text-indent:1.0px;">399</div></div>
<div class="c dt" style="left:127.0px;top:697.0px;width:43.0px;height:11.0px;"><div class="t d" style="top:-1.9px;letter-spacing:0.3px;text-indent:0.3px;">5.14</div></div>
<div class="c dt" style="left:171.0px;top:670.0px;width:62.0px;height:38.0px;"><div class="t d" style="top:6.7px;letter-spacing:0.4px;text-indent:4px;">Y132M-4</div><div class="t d" style="top:20.6px;letter-spacing:0.7px;text-indent:5px;">7.5</div></div>
<div class="c dt" style="left:234.0px;top:670.0px;width:47.0px;height:38.0px;"><div class="t d" style="top:14.1px;letter-spacing:1px;text-indent:1px;">34</div></div>
<div class="c dt" style="left:282.0px;top:670.0px;width:50.0px;height:38.0px;"><div class="t d" style="top:14.1px;letter-spacing:0.2px;text-indent:0px;">326</div></div>
<div class="c dt" style="left:8.0px;top:709.0px;width:41.0px;height:39.0px;"><div class="t d" style="top:14.7px;letter-spacing:0.5px;text-indent:-3.5px;">-2</div></div>
<div class="c dt" style="left:50.0px;top:709.0px;width:38.0px;height:13.0px;"><div class="t d" style="top:1.2px;letter-spacing:0.5px;text-indent:0.5px;">22340</div></div>
<div class="c dt" style="left:89.0px;top:709.0px;width:37.0px;height:13.0px;"><div class="t d" style="top:1.2px;letter-spacing:1.0px;text-indent:1.0px;">568</div></div>
<div class="c dt" style="left:127.0px;top:709.0px;width:43.0px;height:13.0px;"><div class="t d" style="top:1.2px;letter-spacing:0.3px;text-indent:0.3px;">5.03</div></div>
<div class="c dt" style="left:50.0px;top:723.0px;width:38.0px;height:12.0px;"><div class="t d" style="top:-0.5px;letter-spacing:0.5px;text-indent:0.5px;">28385</div></div>
<div class="c dt" style="left:89.0px;top:723.0px;width:37.0px;height:12.0px;"><div class="t d" style="top:-0.5px;letter-spacing:1.0px;text-indent:1.0px;">499</div></div>
<div class="c dt" style="left:127.0px;top:723.0px;width:43.0px;height:12.0px;"><div class="t d" style="top:-0.5px;letter-spacing:0.3px;text-indent:0.3px;">5.62</div></div>
<div class="c dt" style="left:50.0px;top:736.0px;width:38.0px;height:12.0px;"><div class="t d" style="top:-0.7px;letter-spacing:0.5px;text-indent:0.5px;">34126</div></div>
<div class="c dt" style="left:89.0px;top:736.0px;width:37.0px;height:12.0px;"><div class="t d" style="top:-0.7px;letter-spacing:1.0px;text-indent:1.0px;">444</div></div>
<div class="c dt" style="left:127.0px;top:736.0px;width:43.0px;height:12.0px;"><div class="t d" style="top:-0.7px;letter-spacing:0.3px;text-indent:0.3px;">6.01</div></div>
<div class="c dt" style="left:171.0px;top:709.0px;width:62.0px;height:39.0px;"><div class="t d" style="top:8.0px;letter-spacing:0.4px;text-indent:4px;">Y132M-4</div><div class="t d" style="top:21.9px;letter-spacing:0.7px;text-indent:5px;">7.5</div></div>
<div class="c dt" style="left:234.0px;top:709.0px;width:47.0px;height:39.0px;"><div class="t d" style="top:14.5px;letter-spacing:1px;text-indent:1px;">33</div></div>
<div class="c dt" style="left:282.0px;top:709.0px;width:50.0px;height:39.0px;"><div class="t d" style="top:14.5px;letter-spacing:0.2px;text-indent:0px;">326</div></div>
<div class="c dt" style="left:8.0px;top:749.0px;width:41.0px;height:39.0px;"><div class="t d" style="top:13.9px;letter-spacing:0.5px;text-indent:-3.5px;">0</div></div>
<div class="c dt" style="left:50.0px;top:749.0px;width:38.0px;height:13.0px;"><div class="t d" style="top:0.8px;letter-spacing:0.5px;text-indent:0.5px;">23516</div></div>
<div class="c dt" style="left:89.0px;top:749.0px;width:37.0px;height:13.0px;"><div class="t d" style="top:0.8px;letter-spacing:1.0px;text-indent:1.0px;">631</div></div>
<div class="c dt" style="left:127.0px;top:749.0px;width:43.0px;height:13.0px;"><div class="t d" style="top:0.8px;letter-spacing:0.3px;text-indent:0.3px;">5.88</div></div>
<div class="c dt" style="left:50.0px;top:763.0px;width:38.0px;height:12.0px;"><div class="t d" style="top:0.4px;letter-spacing:0.5px;text-indent:0.5px;">29879</div></div>
<div class="c dt" style="left:89.0px;top:763.0px;width:37.0px;height:12.0px;"><div class="t d" style="top:0.4px;letter-spacing:1.0px;text-indent:1.0px;">555</div></div>
<div class="c dt" style="left:127.0px;top:763.0px;width:43.0px;height:12.0px;"><div class="t d" style="top:0.4px;letter-spacing:0.3px;text-indent:0.3px;">6.58</div></div>
<div class="c dt" style="left:50.0px;top:776.0px;width:38.0px;height:12.0px;"><div class="t d" style="top:-1.0px;letter-spacing:0.5px;text-indent:0.5px;">35922</div></div>
<div class="c dt" style="left:89.0px;top:776.0px;width:37.0px;height:12.0px;"><div class="t d" style="top:-1.0px;letter-spacing:1.0px;text-indent:1.0px;">493</div></div>
<div class="c dt" style="left:127.0px;top:776.0px;width:43.0px;height:12.0px;"><div class="t d" style="top:-1.0px;letter-spacing:0.3px;text-indent:0.3px;">7.02</div></div>
<div class="c dt" style="left:171.0px;top:749.0px;width:62.0px;height:39.0px;"><div class="t d" style="top:8.3px;letter-spacing:0.4px;text-indent:4px;">Y160M-4</div><div class="t d" style="top:22.2px;letter-spacing:0.7px;text-indent:5px;">11.0</div></div>
<div class="c dt" style="left:234.0px;top:749.0px;width:47.0px;height:39.0px;"><div class="t d" style="top:13.7px;letter-spacing:1px;text-indent:1px;">33</div></div>
<div class="c dt" style="left:282.0px;top:749.0px;width:50.0px;height:39.0px;"><div class="t d" style="top:13.7px;letter-spacing:0.2px;text-indent:0px;">365</div></div>
<div class="c dt" style="left:8.0px;top:789.0px;width:41.0px;height:40.0px;"><div class="t d" style="top:13.3px;letter-spacing:0.5px;text-indent:-3.5px;">2</div></div>
<div class="c dt" style="left:50.0px;top:789.0px;width:38.0px;height:13.0px;"><div class="t d" style="top:1.0px;letter-spacing:0.5px;text-indent:0.5px;">24243</div></div>
<div class="c dt" style="left:89.0px;top:789.0px;width:37.0px;height:13.0px;"><div class="t d" style="top:1.0px;letter-spacing:1.0px;text-indent:1.0px;">693</div></div>
<div class="c dt" style="left:127.0px;top:789.0px;width:43.0px;height:13.0px;"><div class="t d" style="top:1.0px;letter-spacing:0.3px;text-indent:0.3px;">6.66</div></div>
<div class="c dt" style="left:50.0px;top:803.0px;width:38.0px;height:12.0px;"><div class="t d" style="top:0.8px;letter-spacing:0.5px;text-indent:0.5px;">30802</div></div>
<div class="c dt" style="left:89.0px;top:803.0px;width:37.0px;height:12.0px;"><div class="t d" style="top:0.8px;letter-spacing:1.0px;text-indent:1.0px;">610</div></div>
<div class="c dt" style="left:127.0px;top:803.0px;width:43.0px;height:12.0px;"><div class="t d" style="top:0.8px;letter-spacing:0.3px;text-indent:0.3px;">7.45</div></div>
<div class="c dt" style="left:50.0px;top:816.0px;width:38.0px;height:13.0px;"><div class="t d" style="top:-0.9px;letter-spacing:0.5px;text-indent:0.5px;">37032</div></div>
<div class="c dt" style="left:89.0px;top:816.0px;width:37.0px;height:13.0px;"><div class="t d" style="top:-0.9px;letter-spacing:1.0px;text-indent:1.0px;">542</div></div>
<div class="c dt" style="left:127.0px;top:816.0px;width:43.0px;height:13.0px;"><div class="t d" style="top:-0.9px;letter-spacing:0.3px;text-indent:0.3px;">7.96</div></div>
<div class="c dt" style="left:171.0px;top:789.0px;width:62.0px;height:40.0px;"><div class="t d" style="top:8.6px;letter-spacing:0.4px;text-indent:4px;">Y160M-4</div><div class="t d" style="top:22.6px;letter-spacing:0.7px;text-indent:5px;">11.0</div></div>
<div class="c dt" style="left:234.0px;top:789.0px;width:47.0px;height:40.0px;"><div class="t d" style="top:13.1px;letter-spacing:1px;text-indent:1px;">33</div></div>
<div class="c dt" style="left:282.0px;top:789.0px;width:50.0px;height:40.0px;"><div class="t d" style="top:13.1px;letter-spacing:0.2px;text-indent:0px;">365</div></div>
<div class="c dt" style="left:8.0px;top:830.0px;width:41.0px;height:39.0px;"><div class="t d" style="top:12.4px;letter-spacing:0.5px;text-indent:-3.5px;">4</div></div>
<div class="c dt" style="left:50.0px;top:830.0px;width:38.0px;height:13.0px;"><div class="t d" style="top:0.2px;letter-spacing:0.5px;text-indent:0.5px;">24762</div></div>
<div class="c dt" style="left:89.0px;top:830.0px;width:37.0px;height:13.0px;"><div class="t d" style="top:0.2px;letter-spacing:1.0px;text-indent:1.0px;">769</div></div>
<div class="c dt" style="left:127.0px;top:830.0px;width:43.0px;height:13.0px;"><div class="t d" style="top:0.2px;letter-spacing:0.3px;text-indent:0.3px;">7.55</div></div>
<div class="c dt" style="left:50.0px;top:844.0px;width:38.0px;height:12.0px;"><div class="t d" style="top:0.1px;letter-spacing:0.5px;text-indent:0.5px;">31462</div></div>
<div class="c dt" style="left:89.0px;top:844.0px;width:37.0px;height:12.0px;"><div class="t d" style="top:0.1px;letter-spacing:1.0px;text-indent:1.0px;">677</div></div>
<div class="c dt" style="left:127.0px;top:844.0px;width:43.0px;height:12.0px;"><div class="t d" style="top:0.1px;letter-spacing:0.3px;text-indent:0.3px;">8.44</div></div>
<div class="c dt" style="left:50.0px;top:857.0px;width:38.0px;height:12.0px;"><div class="t d" style="top:-2.1px;letter-spacing:0.5px;text-indent:0.5px;">37826</div></div>
<div class="c dt" style="left:89.0px;top:857.0px;width:37.0px;height:12.0px;"><div class="t d" style="top:-2.1px;letter-spacing:1.0px;text-indent:1.0px;">601</div></div>
<div class="c dt" style="left:127.0px;top:857.0px;width:43.0px;height:12.0px;"><div class="t d" style="top:-2.1px;letter-spacing:0.3px;text-indent:0.3px;">9.02</div></div>
<div class="c dt" style="left:171.0px;top:830.0px;width:62.0px;height:39.0px;"><div class="t d" style="top:7.9px;letter-spacing:0.4px;text-indent:4px;">Y160M-4</div><div class="t d" style="top:22.0px;letter-spacing:0.7px;text-indent:5px;">11.0</div></div>
<div class="c dt" style="left:234.0px;top:830.0px;width:47.0px;height:39.0px;"><div class="t d" style="top:12.2px;letter-spacing:1px;text-indent:1px;">34</div></div>
<div class="c dt" style="left:282.0px;top:830.0px;width:50.0px;height:39.0px;"><div class="t d" style="top:12.2px;letter-spacing:0.2px;text-indent:0px;">365</div></div>
<div class="c dt" style="left:8.0px;top:870.0px;width:41.0px;height:39.0px;"><div class="t d" style="top:11.3px;letter-spacing:0.5px;text-indent:-3.5px;">6</div></div>
<div class="c dt" style="left:50.0px;top:870.0px;width:38.0px;height:13.0px;"><div class="t d" style="top:-0.3px;letter-spacing:0.5px;text-indent:0.5px;">26032</div></div>
<div class="c dt" style="left:89.0px;top:870.0px;width:37.0px;height:13.0px;"><div class="t d" style="top:-0.3px;letter-spacing:1.0px;text-indent:1.0px;">820</div></div>
<div class="c dt" style="left:127.0px;top:870.0px;width:43.0px;height:13.0px;"><div class="t d" style="top:-0.3px;letter-spacing:0.3px;text-indent:0.3px;">8.46</div></div>
<div class="c dt" style="left:50.0px;top:884.0px;width:38.0px;height:12.0px;"><div class="t d" style="top:-0.5px;letter-spacing:0.5px;text-indent:0.5px;">33076</div></div>
<div class="c dt" style="left:89.0px;top:884.0px;width:37.0px;height:12.0px;"><div class="t d" style="top:-0.5px;letter-spacing:1.0px;text-indent:1.0px;">721</div></div>
<div class="c dt" style="left:127.0px;top:884.0px;width:43.0px;height:12.0px;"><div class="t d" style="top:-0.5px;letter-spacing:0.3px;text-indent:0.3px;">9.46</div></div>
<div class="c dt" style="left:50.0px;top:897.0px;width:38.0px;height:12.0px;"><div class="t d" style="top:-2.2px;letter-spacing:0.5px;text-indent:0.5px;">39766</div></div>
<div class="c dt" style="left:89.0px;top:897.0px;width:37.0px;height:12.0px;"><div class="t d" style="top:-2.2px;letter-spacing:1.0px;text-indent:1.0px;">641</div></div>
<div class="c dt" style="left:127.0px;top:897.0px;width:43.0px;height:12.0px;"><div class="t d" style="top:-2.2px;letter-spacing:0.3px;text-indent:0.3px;">10.11</div></div>
<div class="c dt" style="left:171.0px;top:870.0px;width:62.0px;height:39.0px;"><div class="t d" style="top:8.2px;letter-spacing:0.4px;text-indent:4px;">Y160L-4</div><div class="t d" style="top:22.3px;letter-spacing:0.7px;text-indent:5px;">15.0</div></div>
<div class="c dt" style="left:234.0px;top:870.0px;width:47.0px;height:39.0px;"><div class="t d" style="top:11.1px;letter-spacing:1px;text-indent:1px;">35</div></div>
<div class="c dt" style="left:282.0px;top:870.0px;width:50.0px;height:39.0px;"><div class="t d" style="top:11.1px;letter-spacing:0.2px;text-indent:0px;">389</div></div>
<div class="c hd" style="left:358.0px;top:565.0px;width:42.0px;height:63.0px;"><div class="t z" style="top:1.5px;">安装角</div><div class="t " style="top:16.7px;left:7.86px;width:auto;text-align:left;font-size:11.5px;letter-spacing:0.56px;transform:scaleX(1.04);transform-origin:0 50%;">Pitch</div></div>
<div class="c hd" style="left:401.0px;top:565.0px;width:38.0px;height:63.0px;"><div class="t z" style="top:1.5px;">风量</div><div class="t " style="top:12.4px;left:7.24px;width:auto;text-align:left;font-size:10.5px;letter-spacing:0.33px;transform:scaleX(1.13);transform-origin:0 50%;">Flow</div><div class="t " style="top:24.0px;left:7.24px;width:auto;text-align:left;font-size:10.5px;letter-spacing:-0.27px;transform:scaleX(1.13);transform-origin:0 50%;">Rate</div><div class="t " style="top:35.2px;left:7.47px;width:auto;text-align:left;font-size:10.5px;letter-spacing:0.75px;transform:scaleX(1.13);transform-origin:0 50%;">m³/h</div></div>
<div class="c hd" style="left:440.0px;top:565.0px;width:37.0px;height:63.0px;"><div class="t z" style="top:1.5px;">全压</div><div class="t " style="top:18.1px;left:2.84px;width:auto;text-align:left;font-size:11.5px;letter-spacing:0.88px;transform:scaleX(1.04);transform-origin:0 50%;">Total</div><div class="t " style="top:30.2px;left:-1.54px;width:auto;text-align:left;font-size:11.5px;letter-spacing:0.77px;transform:scaleX(1.04);transform-origin:0 50%;">Press.</div><div class="t " style="top:45.1px;left:9.56px;width:auto;text-align:left;font-size:11.5px;letter-spacing:-1.23px;transform:scaleX(1.04);transform-origin:0 50%;">Pa</div></div>
<div class="c hd" style="left:478.0px;top:565.0px;width:43.0px;height:63.0px;"><div class="t z" style="top:1.5px;">轴功率</div><div class="t " style="top:13.6px;left:5.19px;width:auto;text-align:left;font-size:10.5px;letter-spacing:0.92px;transform:scaleX(1.13);transform-origin:0 50%;">Shaft</div><div class="t " style="top:25.2px;left:5.27px;width:auto;text-align:left;font-size:10.5px;letter-spacing:1.14px;transform:scaleX(1.13);transform-origin:0 50%;">powe</div><div class="t " style="top:35.1px;left:11.21px;width:auto;text-align:left;font-size:10.5px;letter-spacing:1.66px;transform:scaleX(1.13);transform-origin:0 50%;">kW</div></div>
<div class="c hd" style="left:522.0px;top:565.0px;width:61.0px;height:63.0px;"><div class="t z" style="top:1.5px;">电机型号</div><div class="t z" style="top:13.6px;">装机容量</div><div class="t " style="top:26.2px;left:9.84px;width:auto;text-align:left;font-size:10.5px;letter-spacing:1.31px;transform:scaleX(1.13);transform-origin:0 50%;">Model</div><div class="t " style="top:37.4px;left:10.74px;width:auto;text-align:left;font-size:10.5px;letter-spacing:0.58px;transform:scaleX(1.13);transform-origin:0 50%;">Power</div><div class="t " style="top:49.9px;left:19.01px;width:auto;text-align:left;font-size:10.5px;letter-spacing:2.28px;transform:scaleX(1.13);transform-origin:0 50%;">kW</div></div>
<div class="c hd" style="left:584.0px;top:565.0px;width:48.0px;height:63.0px;"><div class="t z" style="top:0.6px;letter-spacing:1.2px;">比A</div><div class="t z" style="top:13.6px;">声级</div><div class="t e" style="top:25.4px;letter-spacing:0;">L<span style="font-size:6px;letter-spacing:0;vertical-align:-2px;line-height:0;">pA</span></div><div class="t " style="top:36.0px;left:1.85px;width:auto;text-align:left;font-size:10.5px;letter-spacing:2.71px;transform:scaleX(1.13);transform-origin:0 50%;">dB(A)</div></div>
<div class="c hd" style="left:633.0px;top:565.0px;width:49.0px;height:63.0px;"><div class="t z" style="top:1.5px;">重量</div><div class="t " style="top:12.9px;left:2.30px;width:auto;text-align:left;font-size:10.5px;letter-spacing:1.20px;transform:scaleX(1.13);transform-origin:0 50%;">Weight</div><div class="t " style="top:24.6px;left:14.81px;width:auto;text-align:left;font-size:10.5px;letter-spacing:3.97px;transform:scaleX(1.13);transform-origin:0 50%;">kg</div></div>
<div class="c dt" style="left:358.0px;top:629.0px;width:42.0px;height:40.0px;"><div class="t d" style="top:15.1px;letter-spacing:0.5px;text-indent:-3.5px;">-6</div></div>
<div class="c dt" style="left:401.0px;top:629.0px;width:38.0px;height:13.0px;"><div class="t d" style="top:1.3px;letter-spacing:0.5px;text-indent:0.5px;">13143</div></div>
<div class="c dt" style="left:440.0px;top:629.0px;width:37.0px;height:13.0px;"><div class="t d" style="top:1.3px;letter-spacing:1.0px;text-indent:1.0px;">202</div></div>
<div class="c dt" style="left:478.0px;top:629.0px;width:43.0px;height:13.0px;"><div class="t d" style="top:1.3px;letter-spacing:0.3px;text-indent:0.3px;">1.07</div></div>
<div class="c dt" style="left:401.0px;top:643.0px;width:38.0px;height:12.0px;"><div class="t d" style="top:-0.9px;letter-spacing:0.5px;text-indent:0.5px;">16953</div></div>
<div class="c dt" style="left:440.0px;top:643.0px;width:37.0px;height:12.0px;"><div class="t d" style="top:-0.9px;letter-spacing:1.0px;text-indent:1.0px;">177</div></div>
<div class="c dt" style="left:478.0px;top:643.0px;width:43.0px;height:12.0px;"><div class="t d" style="top:-0.9px;letter-spacing:0.3px;text-indent:0.3px;">1.19</div></div>
<div class="c dt" style="left:401.0px;top:656.0px;width:38.0px;height:13.0px;"><div class="t d" style="top:-0.6px;letter-spacing:0.5px;text-indent:0.5px;">20382</div></div>
<div class="c dt" style="left:440.0px;top:656.0px;width:37.0px;height:13.0px;"><div class="t d" style="top:-0.6px;letter-spacing:1.0px;text-indent:1.0px;">158</div></div>
<div class="c dt" style="left:478.0px;top:656.0px;width:43.0px;height:13.0px;"><div class="t d" style="top:-0.6px;letter-spacing:0.3px;text-indent:0.3px;">1.27</div></div>
<div class="c dt" style="left:522.0px;top:629.0px;width:61.0px;height:40.0px;"><div class="t d" style="top:7.4px;letter-spacing:1.1px;text-indent:1.5px;">Y112M-6</div><div class="t d" style="top:21.2px;letter-spacing:0.7px;text-indent:1px;">2.2</div></div>
<div class="c dt" style="left:584.0px;top:629.0px;width:48.0px;height:40.0px;"><div class="t d" style="top:14.9px;letter-spacing:1px;text-indent:1px;">33</div></div>
<div class="c dt" style="left:633.0px;top:629.0px;width:49.0px;height:40.0px;"><div class="t d" style="top:14.9px;letter-spacing:0.2px;text-indent:-6px;">290</div></div>
<div class="c dt" style="left:358.0px;top:670.0px;width:42.0px;height:38.0px;"><div class="t d" style="top:14.3px;letter-spacing:0.5px;text-indent:-3.5px;">-4</div></div>
<div class="c dt" style="left:401.0px;top:670.0px;width:38.0px;height:13.0px;"><div class="t d" style="top:-0.3px;letter-spacing:0.5px;text-indent:0.5px;">14051</div></div>
<div class="c dt" style="left:440.0px;top:670.0px;width:37.0px;height:13.0px;"><div class="t d" style="top:-0.3px;letter-spacing:1.0px;text-indent:1.0px;">224</div></div>
<div class="c dt" style="left:478.0px;top:670.0px;width:43.0px;height:13.0px;"><div class="t d" style="top:-0.3px;letter-spacing:0.3px;text-indent:0.3px;">1.25</div></div>
<div class="c dt" style="left:401.0px;top:684.0px;width:38.0px;height:12.0px;"><div class="t d" style="top:-1.7px;letter-spacing:0.5px;text-indent:0.5px;">17853</div></div>
<div class="c dt" style="left:440.0px;top:684.0px;width:37.0px;height:12.0px;"><div class="t d" style="top:-1.7px;letter-spacing:1.0px;text-indent:1.0px;">197</div></div>
<div class="c dt" style="left:478.0px;top:684.0px;width:43.0px;height:12.0px;"><div class="t d" style="top:-1.7px;letter-spacing:0.3px;text-indent:0.3px;">1.40</div></div>
<div class="c dt" style="left:401.0px;top:697.0px;width:38.0px;height:11.0px;"><div class="t d" style="top:-1.9px;letter-spacing:0.5px;text-indent:0.5px;">21464</div></div>
<div class="c dt" style="left:440.0px;top:697.0px;width:37.0px;height:11.0px;"><div class="t d" style="top:-1.9px;letter-spacing:1.0px;text-indent:1.0px;">175</div></div>
<div class="c dt" style="left:478.0px;top:697.0px;width:43.0px;height:11.0px;"><div class="t d" style="top:-1.9px;letter-spacing:0.3px;text-indent:0.3px;">1.50</div></div>
<div class="c dt" style="left:522.0px;top:670.0px;width:61.0px;height:38.0px;"><div class="t d" style="top:6.7px;letter-spacing:1.1px;text-indent:1.5px;">Y112M-6</div><div class="t d" style="top:20.6px;letter-spacing:0.7px;text-indent:1px;">2.2</div></div>
<div class="c dt" style="left:584.0px;top:670.0px;width:48.0px;height:38.0px;"><div class="t d" style="top:14.1px;letter-spacing:1px;text-indent:1px;">33</div></div>
<div class="c dt" style="left:633.0px;top:670.0px;width:49.0px;height:38.0px;"><div class="t d" style="top:14.1px;letter-spacing:0.2px;text-indent:-6px;">290</div></div>
<div class="c dt" style="left:358.0px;top:709.0px;width:42.0px;height:39.0px;"><div class="t d" style="top:14.7px;letter-spacing:0.5px;text-indent:-3.5px;">-2</div></div>
<div class="c dt" style="left:401.0px;top:709.0px;width:38.0px;height:13.0px;"><div class="t d" style="top:1.2px;letter-spacing:0.5px;text-indent:0.5px;">14791</div></div>
<div class="c dt" style="left:440.0px;top:709.0px;width:37.0px;height:13.0px;"><div class="t d" style="top:1.2px;letter-spacing:1.0px;text-indent:1.0px;">249</div></div>
<div class="c dt" style="left:478.0px;top:709.0px;width:43.0px;height:13.0px;"><div class="t d" style="top:1.2px;letter-spacing:0.3px;text-indent:0.3px;">1.46</div></div>
<div class="c dt" style="left:401.0px;top:723.0px;width:38.0px;height:12.0px;"><div class="t d" style="top:-0.5px;letter-spacing:0.5px;text-indent:0.5px;">18793</div></div>
<div class="c dt" style="left:440.0px;top:723.0px;width:37.0px;height:12.0px;"><div class="t d" style="top:-0.5px;letter-spacing:1.0px;text-indent:1.0px;">219</div></div>
<div class="c dt" style="left:478.0px;top:723.0px;width:43.0px;height:12.0px;"><div class="t d" style="top:-0.5px;letter-spacing:0.3px;text-indent:0.3px;">1.63</div></div>
<div class="c dt" style="left:401.0px;top:736.0px;width:38.0px;height:12.0px;"><div class="t d" style="top:-0.7px;letter-spacing:0.5px;text-indent:0.5px;">22594</div></div>
<div class="c dt" style="left:440.0px;top:736.0px;width:37.0px;height:12.0px;"><div class="t d" style="top:-0.7px;letter-spacing:1.0px;text-indent:1.0px;">195</div></div>
<div class="c dt" style="left:478.0px;top:736.0px;width:43.0px;height:12.0px;"><div class="t d" style="top:-0.7px;letter-spacing:0.3px;text-indent:0.3px;">1.74</div></div>
<div class="c dt" style="left:522.0px;top:709.0px;width:61.0px;height:39.0px;"><div class="t d" style="top:8.0px;letter-spacing:1.1px;text-indent:1.5px;">Y112M-6</div><div class="t d" style="top:21.9px;letter-spacing:0.7px;text-indent:1px;">2.2</div></div>
<div class="c dt" style="left:584.0px;top:709.0px;width:48.0px;height:39.0px;"><div class="t d" style="top:14.5px;letter-spacing:1px;text-indent:1px;">32</div></div>
<div class="c dt" style="left:633.0px;top:709.0px;width:49.0px;height:39.0px;"><div class="t d" style="top:14.5px;letter-spacing:0.2px;text-indent:-6px;">290</div></div>
<div class="c dt" style="left:358.0px;top:749.0px;width:42.0px;height:39.0px;"><div class="t d" style="top:13.9px;letter-spacing:0.5px;text-indent:-3.5px;">0</div></div>
<div class="c dt" style="left:401.0px;top:749.0px;width:38.0px;height:13.0px;"><div class="t d" style="top:0.8px;letter-spacing:0.5px;text-indent:0.5px;">15569</div></div>
<div class="c dt" style="left:440.0px;top:749.0px;width:37.0px;height:13.0px;"><div class="t d" style="top:0.8px;letter-spacing:1.0px;text-indent:1.0px;">276</div></div>
<div class="c dt" style="left:478.0px;top:749.0px;width:43.0px;height:13.0px;"><div class="t d" style="top:0.8px;letter-spacing:0.3px;text-indent:0.3px;">1.71</div></div>
<div class="c dt" style="left:401.0px;top:763.0px;width:38.0px;height:12.0px;"><div class="t d" style="top:0.4px;letter-spacing:0.5px;text-indent:0.5px;">19782</div></div>
<div class="c dt" style="left:440.0px;top:763.0px;width:37.0px;height:12.0px;"><div class="t d" style="top:0.4px;letter-spacing:1.0px;text-indent:1.0px;">243</div></div>
<div class="c dt" style="left:478.0px;top:763.0px;width:43.0px;height:12.0px;"><div class="t d" style="top:0.4px;letter-spacing:0.3px;text-indent:0.3px;">1.91</div></div>
<div class="c dt" style="left:401.0px;top:776.0px;width:38.0px;height:12.0px;"><div class="t d" style="top:-1.0px;letter-spacing:0.5px;text-indent:0.5px;">23783</div></div>
<div class="c dt" style="left:440.0px;top:776.0px;width:37.0px;height:12.0px;"><div class="t d" style="top:-1.0px;letter-spacing:1.0px;text-indent:1.0px;">216</div></div>
<div class="c dt" style="left:478.0px;top:776.0px;width:43.0px;height:12.0px;"><div class="t d" style="top:-1.0px;letter-spacing:0.3px;text-indent:0.3px;">2.04</div></div>
<div class="c dt" style="left:522.0px;top:749.0px;width:61.0px;height:39.0px;"><div class="t d" style="top:8.3px;letter-spacing:1.1px;text-indent:1.5px;">Y132S-6</div><div class="t d" style="top:22.2px;letter-spacing:0.7px;text-indent:1px;">3.0</div></div>
<div class="c dt" style="left:584.0px;top:749.0px;width:48.0px;height:39.0px;"><div class="t d" style="top:13.7px;letter-spacing:1px;text-indent:1px;">32</div></div>
<div class="c dt" style="left:633.0px;top:749.0px;width:49.0px;height:39.0px;"><div class="t d" style="top:13.7px;letter-spacing:0.2px;text-indent:-6px;">308</div></div>
<div class="c dt" style="left:358.0px;top:789.0px;width:42.0px;height:40.0px;"><div class="t d" style="top:13.3px;letter-spacing:0.5px;text-indent:-3.5px;">2</div></div>
<div class="c dt" style="left:401.0px;top:789.0px;width:38.0px;height:13.0px;"><div class="t d" style="top:1.0px;letter-spacing:0.5px;text-indent:0.5px;">16050</div></div>
<div class="c dt" style="left:440.0px;top:789.0px;width:37.0px;height:13.0px;"><div class="t d" style="top:1.0px;letter-spacing:1.0px;text-indent:1.0px;">304</div></div>
<div class="c dt" style="left:478.0px;top:789.0px;width:43.0px;height:13.0px;"><div class="t d" style="top:1.0px;letter-spacing:0.3px;text-indent:0.3px;">1.93</div></div>
<div class="c dt" style="left:401.0px;top:803.0px;width:38.0px;height:12.0px;"><div class="t d" style="top:0.8px;letter-spacing:0.5px;text-indent:0.5px;">20393</div></div>
<div class="c dt" style="left:440.0px;top:803.0px;width:37.0px;height:12.0px;"><div class="t d" style="top:0.8px;letter-spacing:1.0px;text-indent:1.0px;">267</div></div>
<div class="c dt" style="left:478.0px;top:803.0px;width:43.0px;height:12.0px;"><div class="t d" style="top:0.8px;letter-spacing:0.3px;text-indent:0.3px;">2.16</div></div>
<div class="c dt" style="left:401.0px;top:816.0px;width:38.0px;height:13.0px;"><div class="t d" style="top:-0.9px;letter-spacing:0.5px;text-indent:0.5px;">24518</div></div>
<div class="c dt" style="left:440.0px;top:816.0px;width:37.0px;height:13.0px;"><div class="t d" style="top:-0.9px;letter-spacing:1.0px;text-indent:1.0px;">238</div></div>
<div class="c dt" style="left:478.0px;top:816.0px;width:43.0px;height:13.0px;"><div class="t d" style="top:-0.9px;letter-spacing:0.3px;text-indent:0.3px;">2.31</div></div>
<div class="c dt" style="left:522.0px;top:789.0px;width:61.0px;height:40.0px;"><div class="t d" style="top:8.6px;letter-spacing:1.1px;text-indent:1.5px;">Y132S-6</div><div class="t d" style="top:22.6px;letter-spacing:0.7px;text-indent:1px;">3.0</div></div>
<div class="c dt" style="left:584.0px;top:789.0px;width:48.0px;height:40.0px;"><div class="t d" style="top:13.1px;letter-spacing:1px;text-indent:1px;">32</div></div>
<div class="c dt" style="left:633.0px;top:789.0px;width:49.0px;height:40.0px;"><div class="t d" style="top:13.1px;letter-spacing:0.2px;text-indent:-6px;">308</div></div>
<div class="c dt" style="left:358.0px;top:830.0px;width:42.0px;height:39.0px;"><div class="t d" style="top:12.4px;letter-spacing:0.5px;text-indent:-3.5px;">4</div></div>
<div class="c dt" style="left:401.0px;top:830.0px;width:38.0px;height:13.0px;"><div class="t d" style="top:0.2px;letter-spacing:0.5px;text-indent:0.5px;">16394</div></div>
<div class="c dt" style="left:440.0px;top:830.0px;width:37.0px;height:13.0px;"><div class="t d" style="top:0.2px;letter-spacing:1.0px;text-indent:1.0px;">337</div></div>
<div class="c dt" style="left:478.0px;top:830.0px;width:43.0px;height:13.0px;"><div class="t d" style="top:0.2px;letter-spacing:0.3px;text-indent:0.3px;">2.19</div></div>
<div class="c dt" style="left:401.0px;top:844.0px;width:38.0px;height:12.0px;"><div class="t d" style="top:0.1px;letter-spacing:0.5px;text-indent:0.5px;">20830</div></div>
<div class="c dt" style="left:440.0px;top:844.0px;width:37.0px;height:12.0px;"><div class="t d" style="top:0.1px;letter-spacing:1.0px;text-indent:1.0px;">297</div></div>
<div class="c dt" style="left:478.0px;top:844.0px;width:43.0px;height:12.0px;"><div class="t d" style="top:0.1px;letter-spacing:0.3px;text-indent:0.3px;">2.45</div></div>
<div class="c dt" style="left:401.0px;top:857.0px;width:38.0px;height:12.0px;"><div class="t d" style="top:-2.1px;letter-spacing:0.5px;text-indent:0.5px;">25043</div></div>
<div class="c dt" style="left:440.0px;top:857.0px;width:37.0px;height:12.0px;"><div class="t d" style="top:-2.1px;letter-spacing:1.0px;text-indent:1.0px;">264</div></div>
<div class="c dt" style="left:478.0px;top:857.0px;width:43.0px;height:12.0px;"><div class="t d" style="top:-2.1px;letter-spacing:0.3px;text-indent:0.3px;">2.62</div></div>
<div class="c dt" style="left:522.0px;top:830.0px;width:61.0px;height:39.0px;"><div class="t d" style="top:7.9px;letter-spacing:1.1px;text-indent:1.5px;">Y132M1-6</div><div class="t d" style="top:22.0px;letter-spacing:0.7px;text-indent:1px;">4.0</div></div>
<div class="c dt" style="left:584.0px;top:830.0px;width:48.0px;height:39.0px;"><div class="t d" style="top:12.2px;letter-spacing:1px;text-indent:1px;">33</div></div>
<div class="c dt" style="left:633.0px;top:830.0px;width:49.0px;height:39.0px;"><div class="t d" style="top:12.2px;letter-spacing:0.2px;text-indent:-6px;">318</div></div>
<div class="c dt" style="left:358.0px;top:870.0px;width:42.0px;height:39.0px;"><div class="t d" style="top:11.3px;letter-spacing:0.5px;text-indent:-3.5px;">6</div></div>
<div class="c dt" style="left:401.0px;top:870.0px;width:38.0px;height:13.0px;"><div class="t d" style="top:-0.3px;letter-spacing:0.5px;text-indent:0.5px;">17235</div></div>
<div class="c dt" style="left:440.0px;top:870.0px;width:37.0px;height:13.0px;"><div class="t d" style="top:-0.3px;letter-spacing:1.0px;text-indent:1.0px;">359</div></div>
<div class="c dt" style="left:478.0px;top:870.0px;width:43.0px;height:13.0px;"><div class="t d" style="top:-0.3px;letter-spacing:0.3px;text-indent:0.3px;">2.46</div></div>
<div class="c dt" style="left:401.0px;top:884.0px;width:38.0px;height:12.0px;"><div class="t d" style="top:-0.5px;letter-spacing:0.5px;text-indent:0.5px;">21898</div></div>
<div class="c dt" style="left:440.0px;top:884.0px;width:37.0px;height:12.0px;"><div class="t d" style="top:-0.5px;letter-spacing:1.0px;text-indent:1.0px;">316</div></div>
<div class="c dt" style="left:478.0px;top:884.0px;width:43.0px;height:12.0px;"><div class="t d" style="top:-0.5px;letter-spacing:0.3px;text-indent:0.3px;">2.75</div></div>
<div class="c dt" style="left:401.0px;top:897.0px;width:38.0px;height:12.0px;"><div class="t d" style="top:-2.2px;letter-spacing:0.5px;text-indent:0.5px;">26328</div></div>
<div class="c dt" style="left:440.0px;top:897.0px;width:37.0px;height:12.0px;"><div class="t d" style="top:-2.2px;letter-spacing:1.0px;text-indent:1.0px;">281</div></div>
<div class="c dt" style="left:478.0px;top:897.0px;width:43.0px;height:12.0px;"><div class="t d" style="top:-2.2px;letter-spacing:0.3px;text-indent:0.3px;">2.93</div></div>
<div class="c dt" style="left:522.0px;top:870.0px;width:61.0px;height:39.0px;"><div class="t d" style="top:8.2px;letter-spacing:1.1px;text-indent:1.5px;">Y132M1-6</div><div class="t d" style="top:22.3px;letter-spacing:0.7px;text-indent:1px;">4.0</div></div>
<div class="c dt" style="left:584.0px;top:870.0px;width:48.0px;height:39.0px;"><div class="t d" style="top:11.1px;letter-spacing:1px;text-indent:1px;">34</div></div>
<div class="c dt" style="left:633.0px;top:870.0px;width:49.0px;height:39.0px;"><div class="t d" style="top:11.1px;letter-spacing:0.2px;text-indent:-6px;">318</div></div>
</body></html>
